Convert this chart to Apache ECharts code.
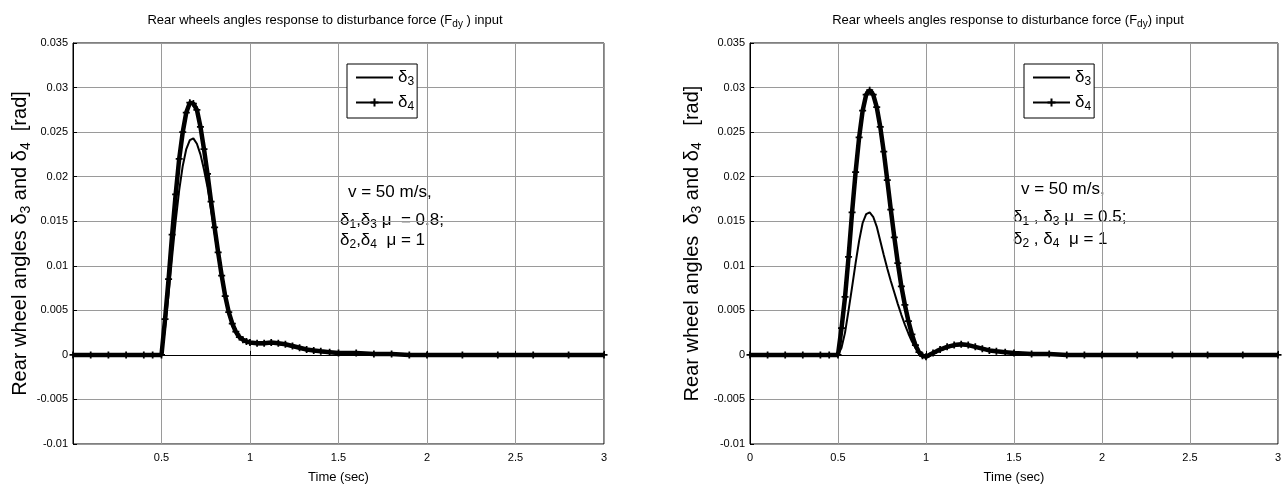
<!DOCTYPE html>
<html>
<head>
<meta charset="utf-8">
<script src="https://cdn.jsdelivr.net/npm/echarts@6/dist/echarts.min.js"></script>
<style>
  html, body { margin: 0; padding: 0; background: #fff; }
  #chart { width: 1286px; height: 489px; }
</style>
</head>
<body>
<div id="chart"></div>
<script>
// time axis (sec)
const T = [
  0, 0.1, 0.2, 0.3, 0.4, 0.45, 0.5,
  0.52, 0.54, 0.56, 0.58, 0.6, 0.62, 0.64, 0.66, 0.68, 0.7,
  0.72, 0.74, 0.76, 0.78, 0.8, 0.82, 0.84, 0.86, 0.88, 0.9,
  0.92, 0.94, 0.96, 0.98, 1.0,
  1.04, 1.08, 1.12, 1.16, 1.2, 1.24, 1.28, 1.32, 1.36, 1.4,
  1.45, 1.5, 1.6, 1.7, 1.8, 1.9, 2.0,
  2.2, 2.4, 2.6, 2.8, 3.0
]

// left plot: mu = 0.8
const leftD3 = [
  0, 0, 0, 0, 0, 0, 0,
  0.003, 0.0068, 0.011, 0.015, 0.0185, 0.0212, 0.0231, 0.0241, 0.0243, 0.0237,
  0.0225, 0.0208, 0.0188, 0.0163, 0.0137, 0.0111, 0.0087, 0.0065, 0.0047, 0.0034,
  0.0025, 0.0019, 0.0016, 0.0014, 0.0013,
  0.0012, 0.0012, 0.0013, 0.0012, 0.0011, 0.0009, 0.0007, 0.0005, 0.0004, 0.0003,
  0.0002, 0.0002, 0.0001, 0.0001, 0, 0, 0,
  0, 0, 0, 0, 0
]
const leftD4 = [
  0, 0, 0, 0, 0, 0, 0,
  0.004, 0.0085, 0.0135, 0.018, 0.022, 0.025, 0.0272, 0.0283, 0.0282, 0.0275,
  0.0256, 0.0231, 0.0203, 0.0172, 0.0143, 0.0115, 0.0089, 0.0066, 0.0048, 0.0035,
  0.0026, 0.002, 0.0017, 0.0015, 0.0014,
  0.0013, 0.0013, 0.0014, 0.0013, 0.0012, 0.001, 0.0008, 0.0006, 0.0005, 0.0004,
  0.0003, 0.0002, 0.0002, 0.0001, 0.0001, 0, 0,
  0, 0, 0, 0, 0
]

// right plot: mu = 0.5
const rightD3 = [
  0, 0, 0, 0, 0, 0, 0,
  0.0008, 0.0025, 0.005, 0.0076, 0.0103, 0.0128, 0.0148, 0.0158, 0.016, 0.0155,
  0.0144, 0.0128, 0.0112, 0.0097, 0.0083, 0.007, 0.0057, 0.0045, 0.0034, 0.0024,
  0.0015, 0.0008, 0.0002, -0.0002, -0.0003,
  0.0001, 0.0005, 0.0008, 0.001, 0.0011, 0.001, 0.0009, 0.0007, 0.0005, 0.0004,
  0.0003, 0.0002, 0.0001, 0.0001, 0, 0, 0,
  0, 0, 0, 0, 0
]
const rightD4 = [
  0, 0, 0, 0, 0, 0, 0,
  0.003, 0.0065, 0.011, 0.016, 0.0205, 0.0244, 0.0274, 0.0292, 0.0297, 0.0292,
  0.0278, 0.0256, 0.0228, 0.0196, 0.0163, 0.0132, 0.0103, 0.0077, 0.0056, 0.0038,
  0.0023, 0.0011, 0.0003, -0.0001, -0.0002,
  0.0002, 0.0006, 0.0009, 0.0011, 0.0012, 0.0011, 0.0009, 0.0007, 0.0005, 0.0004,
  0.0003, 0.0002, 0.0001, 0.0001, 0, 0, 0,
  0, 0, 0, 0, 0
]

const FONT = 'Liberation Sans, Arial, sans-serif'
const PLUS = 'path://M3,0H5V3H8V5H5V8H3V5H0V3H3Z'

const base = { fontFamily: FONT, color: '#000', fontWeight: 'normal' }
const rich = {
  n: { ...base, fontSize: 20 },
  g: { ...base, fontSize: 20 },
  s: { ...base, fontSize: 14, verticalAlign: 'bottom', padding: [10, 0, 0, 0] },
  t: { ...base, fontSize: 13 },
  ts: { ...base, fontSize: 10, verticalAlign: 'bottom', padding: [7, 0, 0, 0] },
  a: { ...base, fontSize: 17 },
  as: { ...base, fontSize: 12, verticalAlign: 'bottom', padding: [9, 0, 0, 0] },
  l: { ...base, fontSize: 17 },
  ls: { ...base, fontSize: 12, verticalAlign: 'bottom', padding: [9, 0, 0, 0] }
}

function xy(vals) {
  return T.map((t, i) => [t, vals[i]])
}

function xAxis(idx, showZero) {
  return {
    type: 'value', gridIndex: idx, min: 0, max: 3, interval: 0.5,
    name: 'Time (sec)', nameLocation: 'middle', nameGap: 27,
    nameTextStyle: { fontFamily: FONT, fontSize: 13, color: '#000' },
    axisLine: { lineStyle: { color: '#000', width: 1 } },
    axisTick: { inside: true, length: 4, lineStyle: { color: '#000' } },
    axisLabel: {
      fontFamily: FONT, fontSize: 11, color: '#000', margin: 8,
      formatter: v => (v === 0 && !showZero) ? '' : String(v)
    },
    splitLine: { show: true, lineStyle: { color: '#9a9a9a', width: 1 } }
  }
}

function yAxis(idx, gap, spaced) {
  return {
    type: 'value', gridIndex: idx, min: -0.01, max: 0.035, interval: 0.005,
    name: spaced
      ? '{n|Rear wheel angles  }{g|δ}{s|3}{n| and }{g|δ}{s|4}{n|   [rad]}'
      : '{n|Rear wheel angles }{g|δ}{s|3}{n| and }{g|δ}{s|4}{n|  [rad]}',
    nameLocation: 'middle', nameGap: gap,
    nameTextStyle: { rich: rich },
    axisLine: { show: true, lineStyle: { color: '#000', width: 1 } },
    axisTick: { inside: true, length: 4, lineStyle: { color: '#000' } },
    axisLabel: {
      fontFamily: FONT, fontSize: 11, color: '#000', margin: 5,
      formatter: v => String(+v.toFixed(3))
    },
    splitLine: { show: true, lineStyle: { color: '#9a9a9a', width: 1 } }
  }
}

function d3Series(idx, vals) {
  return {
    name: 'δ3', type: 'line', xAxisIndex: idx, yAxisIndex: idx,
    data: xy(vals), symbol: 'none', z: 4,
    lineStyle: { color: '#000', width: 2 }, itemStyle: { color: '#000' },
    animation: false
  }
}

function d4Series(idx, vals) {
  return {
    name: 'δ4', type: 'line', xAxisIndex: idx, yAxisIndex: idx,
    data: xy(vals), symbol: PLUS, symbolSize: 7, showAllSymbol: true, z: 3,
    lineStyle: { color: '#000', width: 4.5 }, itemStyle: { color: '#000' },
    animation: false
  }
}

function legend(left) {
  return {
    orient: 'vertical', left: left, top: 64,
    data: [{ name: 'δ3', itemStyle: { opacity: 0 } }, { name: 'δ4' }],
    backgroundColor: '#fff', borderColor: '#000', borderWidth: 1,
    padding: [5, 3, 5, 8], itemGap: 6, itemWidth: 37, itemHeight: 10,
    selectedMode: false,
    formatter: n => '{l|δ}{ls|' + n.slice(1) + '}',
    textStyle: { rich: rich }
  }
}

function note(x, y, mu, sep, dy) {
  return [
    { type: 'text', x: x + 8, y: y, style: { text: '{a|v = 50 m/s,}', rich: rich } },
    { type: 'text', x: x, y: y + 26, style: { text: '{a|δ}{as|1}{a|' + sep + 'δ}{as|3}{a| μ  = ' + mu + ';}', rich: rich } },
    { type: 'text', x: x, y: y + 26 + dy, style: { text: '{a|δ}{as|2}{a|' + sep + 'δ}{as|4}{a|  μ = 1}', rich: rich } }
  ]
}

var chart = echarts.init(document.getElementById('chart'))
var option = {
  backgroundColor: '#fff',
  animation: false,
  title: [
    { text: '{t|Rear wheels angles response to disturbance force (F}{ts|dy}{t| ) input}', left: 320, top: 7, textAlign: 'center', textStyle: { rich: rich } },
    { text: '{t|Rear wheels angles response to disturbance force (F}{ts|dy}{t|) input}', left: 1003, top: 7, textAlign: 'center', textStyle: { rich: rich } }
  ],
  grid: [
    { left: 73, top: 43, width: 531, height: 405, show: true, borderColor: '#000', borderWidth: 1, backgroundColor: '#fff' },
    { left: 750, top: 43, width: 528, height: 405, show: true, borderColor: '#000', borderWidth: 1, backgroundColor: '#fff' }
  ],
  xAxis: [xAxis(0, false), xAxis(1, true)],
  yAxis: [yAxis(0, 38, false), yAxis(1, 46, true)],
  legend: [legend(347), legend(1024)],
  graphic: [].concat(note(340, 184, '0.8', ',', 20), note(1013, 181, '0.5', ' , ', 22)),
  series: [
    d4Series(0, leftD4), d3Series(0, leftD3),
    d4Series(1, rightD4), d3Series(1, rightD3)
  ]
}
chart.setOption(option)
</script>
</body>
</html>
